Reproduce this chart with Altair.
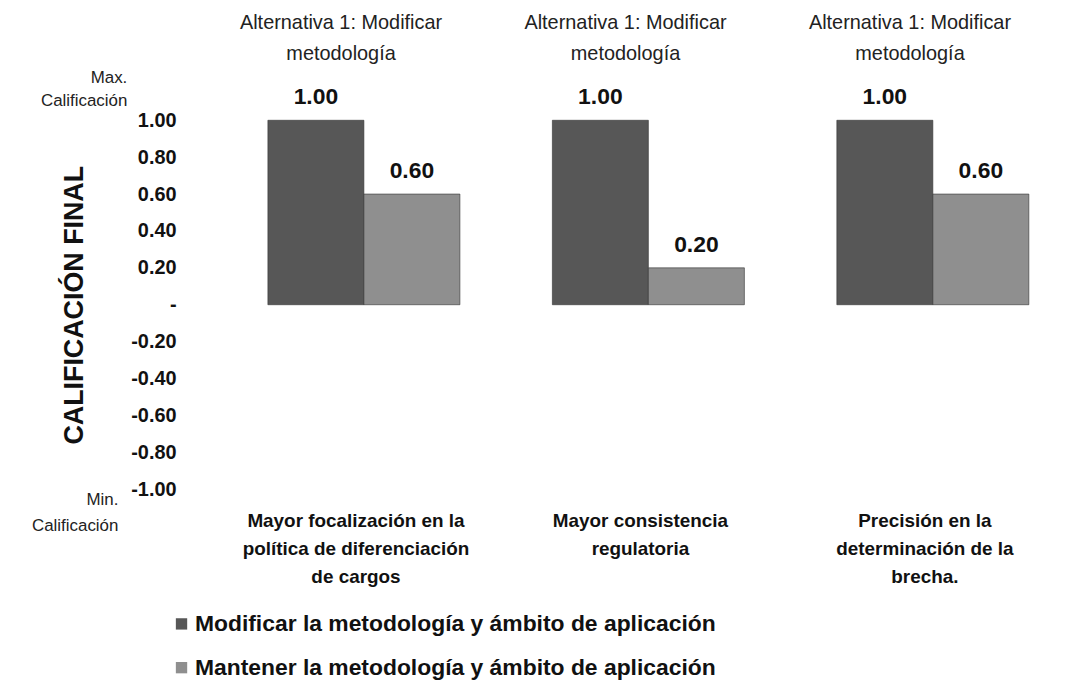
import altair as alt
import pandas as pd

categories = [
    "Mayor focalización en la\npolítica de diferenciación\nde cargos",
    "Mayor consistencia\nregulatoria",
    "Precisión en la\ndeterminación de la\nbrecha.",
]
series = [
    "Modificar la metodología y ámbito de aplicación",
    "Mantener la metodología y ámbito de aplicación",
]
values_modificar = [1.00, 1.00, 1.00]
values_mantener = [0.60, 0.20, 0.60]
top_titles = ["Alternativa 1: Modificar\nmetodología"] * 3
y_ticks = [1.0, 0.8, 0.6, 0.4, 0.2, 0.0, -0.2, -0.4, -0.6, -0.8, -1.0]

rows = []
for c, a, b in zip(categories, values_modificar, values_mantener):
    rows.append({"cat": c, "serie": series[0], "valor": a})
    rows.append({"cat": c, "serie": series[1], "valor": b})
df = pd.DataFrame(rows)
df_cat = pd.DataFrame({"cat": categories, "titulo": top_titles})

FONT = "Liberation Sans"

x_enc = alt.X("cat:N", sort=categories, axis=None,
              scale=alt.Scale(paddingInner=0.325, paddingOuter=0.19, align=0.73))
xo_enc = alt.XOffset("serie:N", sort=series, scale=alt.Scale(paddingInner=0))
y_scale = alt.Scale(domain=[-1, 1], nice=False, zero=False)
y_axis = alt.Axis(values=y_ticks, grid=False, ticks=False, domain=False,
                  labelOverlap=False,
                  labelExpr="abs(datum.value) < 1e-9 ? '-' : replace(format(datum.value, '.2f'), '\u2212', '-')",
                  labelFont=FONT, labelFontSize=20, labelFontWeight="bold",
                  labelColor="#111111", labelPadding=13,
                  title="CALIFICACIÓN FINAL", titleFont=FONT, titleFontSize=27,
                  titleFontWeight="bold", titleColor="#111111", titlePadding=42)

bars = alt.Chart(df).mark_bar(stroke="#333333", strokeWidth=0.6).encode(
    x=x_enc,
    xOffset=xo_enc,
    y=alt.Y("valor:Q", scale=y_scale, axis=y_axis),
    y2=alt.datum(0),
    color=alt.Color("serie:N", sort=series,
                    scale=alt.Scale(domain=series, range=["#575757", "#8f8f8f"]),
                    legend=alt.Legend(title=None, orient="none", legendX=-19, legendY=495,
                                      direction="vertical", symbolType="square",
                                      symbolSize=130, symbolStrokeWidth=0,
                                      labelFont=FONT, labelFontSize=23, labelFontWeight="bold",
                                      labelColor="#111111", rowPadding=20, labelOffset=2,
                                      labelLimit=800)),
)

value_labels = alt.Chart(df).mark_text(
    baseline="bottom", dy=-11, font=FONT, fontSize=23, fontWeight="bold", color="#111111"
).encode(
    x=x_enc,
    xOffset=xo_enc,
    y=alt.Y("valor:Q", scale=y_scale, axis=y_axis),
    text=alt.Text("valor:Q", format=".2f"),
)

bottom_labels = alt.Chart(df_cat).mark_text(
    baseline="top", font=FONT, fontSize=19, fontWeight="bold", color="#111111",
    lineBreak="\n", lineHeight=28, dx=-8
).encode(
    x=alt.X("cat:N", sort=categories),
    y=alt.value(394),
    text="cat:N",
)

top_labels = alt.Chart(df_cat).mark_text(
    baseline="top", font=FONT, fontSize=20, color="#222222",
    lineBreak="\n", lineHeight=31, dx=-23
).encode(
    x=alt.X("cat:N", sort=categories),
    y=alt.value(-108),
    text="titulo:N",
)

side_notes = pd.DataFrame({"nota": ["Max.\nCalificación", "Min.\nCalificación"],
                           "valor": [1.0, -1.0]})
max_note = alt.Chart(side_notes.iloc[[0]]).mark_text(
    align="right", baseline="top", font=FONT, fontSize=17, color="#222222",
    lineBreak="\n", lineHeight=23, dx=-62, dy=-50
).encode(x=alt.value(0), y=alt.Y("valor:Q", scale=y_scale, axis=y_axis), text="nota:N")
min_note = alt.Chart(side_notes.iloc[[1]]).mark_text(
    align="right", baseline="top", font=FONT, fontSize=17, color="#222222",
    lineBreak="\n", lineHeight=26, dx=-71, dy=3
).encode(x=alt.value(0), y=alt.Y("valor:Q", scale=y_scale, axis=y_axis), text="nota:N")

chart = alt.layer(bars, value_labels, bottom_labels, top_labels, max_note, min_note).properties(
    width=874, height=371,
    background="white",
    autosize=alt.AutoSizeParams(type="none"),
    padding={"left": 182, "top": 111, "right": 8, "bottom": 190},
).configure_view(strokeWidth=0, stroke=None)

chart.save("out.html", embed_options={"renderer": "svg", "actions": False})
